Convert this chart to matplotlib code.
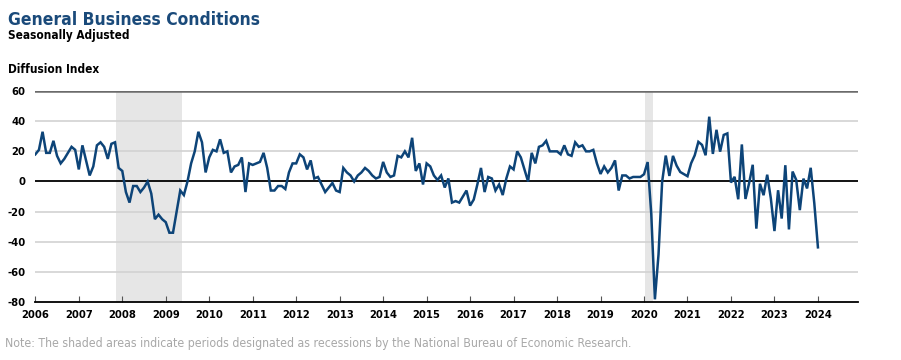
import matplotlib
matplotlib.use('Agg')
import matplotlib.pyplot as plt
import numpy as np

plt.rcParams['font.family'] = ['DejaVu Sans']
plt.rcParams['font.stretch'] = 'condensed'

# Empire State general business conditions, monthly, Jan 2006 - Jan 2024
values = [
    18, 21, 33, 19, 19, 27, 17, 12, 15, 19, 23, 21,          # 2006
    8, 24, 14, 4, 10, 24, 26, 23, 15, 25, 26, 9,             # 2007
    7, -7, -14, -3, -3, -7, -4, 0, -8, -25, -22, -25,        # 2008
    -27, -34, -34, -20, -6, -9, 0, 12, 20, 33, 26, 6,        # 2009
    16, 21, 20, 28, 19, 20, 6, 10, 11, 16, -7, 12,           # 2010
    11, 12, 13, 19, 9, -6, -6, -3, -3, -5, 6, 12,            # 2011
    12, 18, 16, 8, 14, 2, 3, -2, -7, -4, -1, -6,             # 2012
    -7, 9, 6, 4, 0, 4, 6, 9, 7, 4, 2, 3,                     # 2013
    13, 6, 3, 4, 17, 16, 20, 16, 29, 7, 12, -2,              # 2014
    12, 10, 4, 1, 4, -4, 2, -14, -13, -14, -10, -6,          # 2015
    -16, -12, -2, 9, -7, 3, 2, -6, -2, -9, 2, 10,            # 2016
    8, 20, 16, 8, 0, 19, 12, 23, 24, 27, 20, 20,             # 2017
    20, 18, 24, 18, 17, 26, 23, 24, 20, 20, 21, 12,          # 2018
    5, 10, 6, 9, 14, -6, 4, 4, 2, 3, 3, 3,                   # 2019
    4.8, 12.9, -21.5, -78.2, -48.5, -0.2, 17.2, 3.7, 17.0, 10.5, 6.3, 4.9,     # 2020
    3.5, 12.1, 17.4, 26.3, 24.3, 17.4, 43.0, 18.3, 34.3, 19.8, 30.9, 31.9,     # 2021
    -0.7, 3.1, -11.8, 24.6, -11.6, -1.2, 11.1, -31.3, -1.5, -9.1, 4.5, -11.2,  # 2022
    -32.9, -5.8, -24.6, 10.8, -31.8, 6.6, 1.1, -19.0, 1.9, -4.6, 9.1, -14.5,   # 2023
    -43.7,                                                   # 2024
]
recessions = [(2007.86, 2009.38), (2020.03, 2020.2)]
years = list(range(2006, 2025))
yticks = [60, 40, 20, 0, -20, -40, -60, -80]

dates = 2006 + np.arange(len(values)) / 12.0

fig = plt.figure(figsize=(9.01, 3.6), dpi=100)
ax = fig.add_axes([0.0392, 0.161, 0.913, 0.586])

for start, end in recessions:
    ax.axvspan(start, end, color='#e6e6e6', lw=0, zorder=0)

for yv in yticks:
    if yv == 60:
        ax.axhline(yv, color='#6b6b6b', lw=1.8, zorder=1)
    elif yv == 0:
        ax.axhline(yv, color='black', lw=1.3, zorder=2)
    elif yv == -80:
        pass
    else:
        ax.axhline(yv, color='#d2d2d2', lw=1.2, zorder=1)

ax.plot(dates, values, color='#0d4478', lw=1.8, zorder=3, solid_joinstyle='miter')

ax.set_xlim(2006, 2024.92)
ax.set_ylim(-80, 60)
for s in ['top', 'right', 'left']:
    ax.spines[s].set_visible(False)
ax.spines['bottom'].set_color('black')
ax.spines['bottom'].set_linewidth(1.3)

ax.set_yticks(yticks)
ax.set_yticklabels([str(v) for v in yticks], fontsize=8, fontweight='bold')
ax.tick_params(axis='y', length=0, pad=7)
ax.set_xticks(years)
ax.set_xticklabels([str(y) for y in years], fontsize=8, fontweight='bold')
ax.tick_params(axis='x', direction='in', length=4, width=0.8, color='#555555', pad=6)

fig.text(0.009, 0.931, 'General Business Conditions', fontsize=12.5, fontweight='bold',
         color='#1a4a7a', va='baseline')
fig.text(0.009, 0.891, 'Seasonally Adjusted', fontsize=8.5, fontweight='bold',
         color='black', va='baseline')
fig.text(0.009, 0.798, 'Diffusion Index', fontsize=8.5, fontweight='bold',
         color='black', va='baseline')
fig.text(0.006, 0.035, 'Note: The shaded areas indicate periods designated as recessions '
         'by the National Bureau of Economic Research.', fontsize=8.8,
         color='#a8a8a8', va='baseline')

fig.savefig('out.png', dpi=100)
